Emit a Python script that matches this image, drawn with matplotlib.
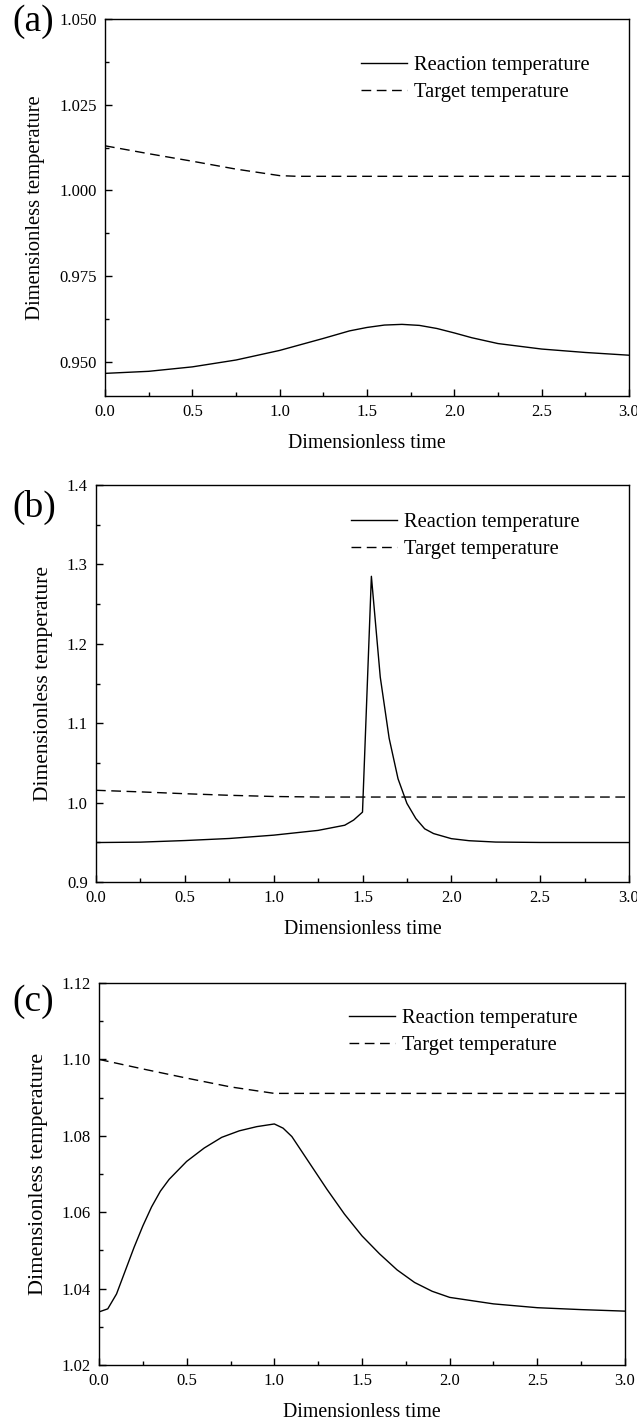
import matplotlib
matplotlib.use("Agg")
import matplotlib.pyplot as plt
from matplotlib.ticker import MultipleLocator, FormatStrFormatter

plt.rcParams["font.family"] = ["Liberation Serif", "DejaVu Serif"]

# ── Data ─────────────────────────────────────────────────────────────────────

# (a)
a_t_react = [0.0, 0.25, 0.5, 0.75, 1.0, 1.25, 1.4, 1.5, 1.6, 1.7, 1.8, 1.9,
             2.0, 2.1, 2.25, 2.5, 2.75, 3.0]
a_react   = [0.9466, 0.9472, 0.9485, 0.9505, 0.9533, 0.9568, 0.9590, 0.9600,
             0.9607, 0.9609, 0.9606, 0.9597, 0.9584, 0.9570, 0.9553, 0.9537,
             0.9527, 0.9519]
a_t_target = [0.0, 0.25, 0.5, 0.75, 1.0, 1.1, 3.0]
a_target   = [1.0130, 1.0107, 1.0085, 1.0062, 1.0043, 1.0041, 1.0041]

# (b)
b_t_react = [0.0, 0.25, 0.5, 0.75, 1.0, 1.25, 1.4, 1.45, 1.5, 1.55, 1.6, 1.65,
             1.7, 1.75, 1.8, 1.85, 1.9, 2.0, 2.1, 2.25, 2.5, 3.0]
b_react   = [0.9497, 0.9502, 0.9522, 0.9548, 0.9590, 0.9650, 0.9715, 0.978,
             0.988, 1.285, 1.158, 1.081, 1.030, 0.999, 0.980, 0.967, 0.961,
             0.9546, 0.952, 0.9503, 0.9498, 0.9497]
b_t_target = [0.0, 0.25, 0.5, 0.75, 1.0, 1.25, 3.0]
b_target   = [1.0155, 1.0135, 1.0112, 1.0092, 1.0077, 1.0070, 1.0070]

# (c)
c_t_react = [0.0, 0.05, 0.1, 0.15, 0.2, 0.25, 0.3, 0.35, 0.4, 0.5, 0.6, 0.7,
             0.8, 0.9, 1.0, 1.05, 1.1, 1.2, 1.3, 1.4, 1.5, 1.6, 1.7, 1.8,
             1.9, 2.0, 2.25, 2.5, 2.75, 3.0]
c_react   = [1.0339, 1.0347, 1.0386, 1.0447, 1.0508, 1.0564, 1.0614, 1.0655,
             1.0686, 1.0733, 1.0768, 1.0796, 1.0813, 1.0824, 1.0831, 1.0820,
             1.0798, 1.0729, 1.0660, 1.0595, 1.0538, 1.0491, 1.0449, 1.0416,
             1.0393, 1.0377, 1.0360, 1.0350, 1.0345, 1.0341]
c_t_target = [0.0, 0.25, 0.5, 0.75, 1.0, 3.0]
c_target   = [1.1000, 1.0975, 1.0951, 1.0928, 1.0911, 1.0911]

panels = [
    ("(a)", a_t_react, a_react, a_t_target, a_target, (0.94, 1.05), 0.025, "%.3f"),
    ("(b)", b_t_react, b_react, b_t_target, b_target, (0.9, 1.4), 0.1, "%.1f"),
    ("(c)", c_t_react, c_react, c_t_target, c_target, (1.02, 1.12), 0.02, "%.2f"),
]

# layout in pixels: axes box (left, right, top, bottom), panel tag y,
# legend anchor (right, top), y-label size
boxes = [(105, 629, 19, 396), (96, 629, 485, 882), (99, 625, 983, 1365)]
label_y = [22, 507, 1002]
leg_anchor = [(597.6, 47.6), (587.6, 504.6), (585.6, 1000.6)]
ylab_size = [14.9, 15.5, 16.0]

W, H = 637, 1422
fig = plt.figure(figsize=(W / 100, H / 100), dpi=100)

for (tag, tr, yr, tt, yt, ylim, ystep, fmt), (l, r, t, b), ly, (lx, lt), ys in zip(
        panels, boxes, label_y, leg_anchor, ylab_size):
    ax = fig.add_axes([l / W, 1 - b / H, (r - l) / W, (b - t) / H])
    ax.plot(tr, yr, color="black", lw=1.0, label="Reaction temperature")
    ax.plot(tt, yt, color="black", lw=1.0, linestyle=(0, (7, 4)),
            label="Target temperature")
    ax.set_xlim(0, 3.0)
    ax.set_ylim(*ylim)
    ax.xaxis.set_major_locator(MultipleLocator(0.5))
    ax.xaxis.set_minor_locator(MultipleLocator(0.25))
    ax.yaxis.set_major_locator(MultipleLocator(ystep))
    ax.yaxis.set_minor_locator(MultipleLocator(ystep / 2))
    ax.xaxis.set_major_formatter(FormatStrFormatter("%.1f"))
    ax.yaxis.set_major_formatter(FormatStrFormatter(fmt))
    ax.tick_params(which="both", direction="in", top=False, right=False,
                   labelsize=12, width=1.0, pad=6)
    ax.tick_params(which="major", length=5)
    ax.tick_params(which="minor", length=3)
    for s in ax.spines.values():
        s.set_linewidth(1.0)
    ax.set_xlabel("Dimensionless time", fontsize=14.3, labelpad=10)
    ax.set_ylabel("Dimensionless temperature", fontsize=ys, labelpad=10)
    ax.legend(loc="upper right", frameon=False, fontsize=14.8,
              handlelength=2.2, handletextpad=0.35, labelspacing=0.38,
              borderaxespad=0.0, bbox_to_anchor=(lx / W, 1 - lt / H),
              bbox_transform=fig.transFigure)
    fig.text(12 / W, 1 - ly / H, tag, fontsize=27, ha="left", va="center")

fig.savefig("out.png", dpi=100)
